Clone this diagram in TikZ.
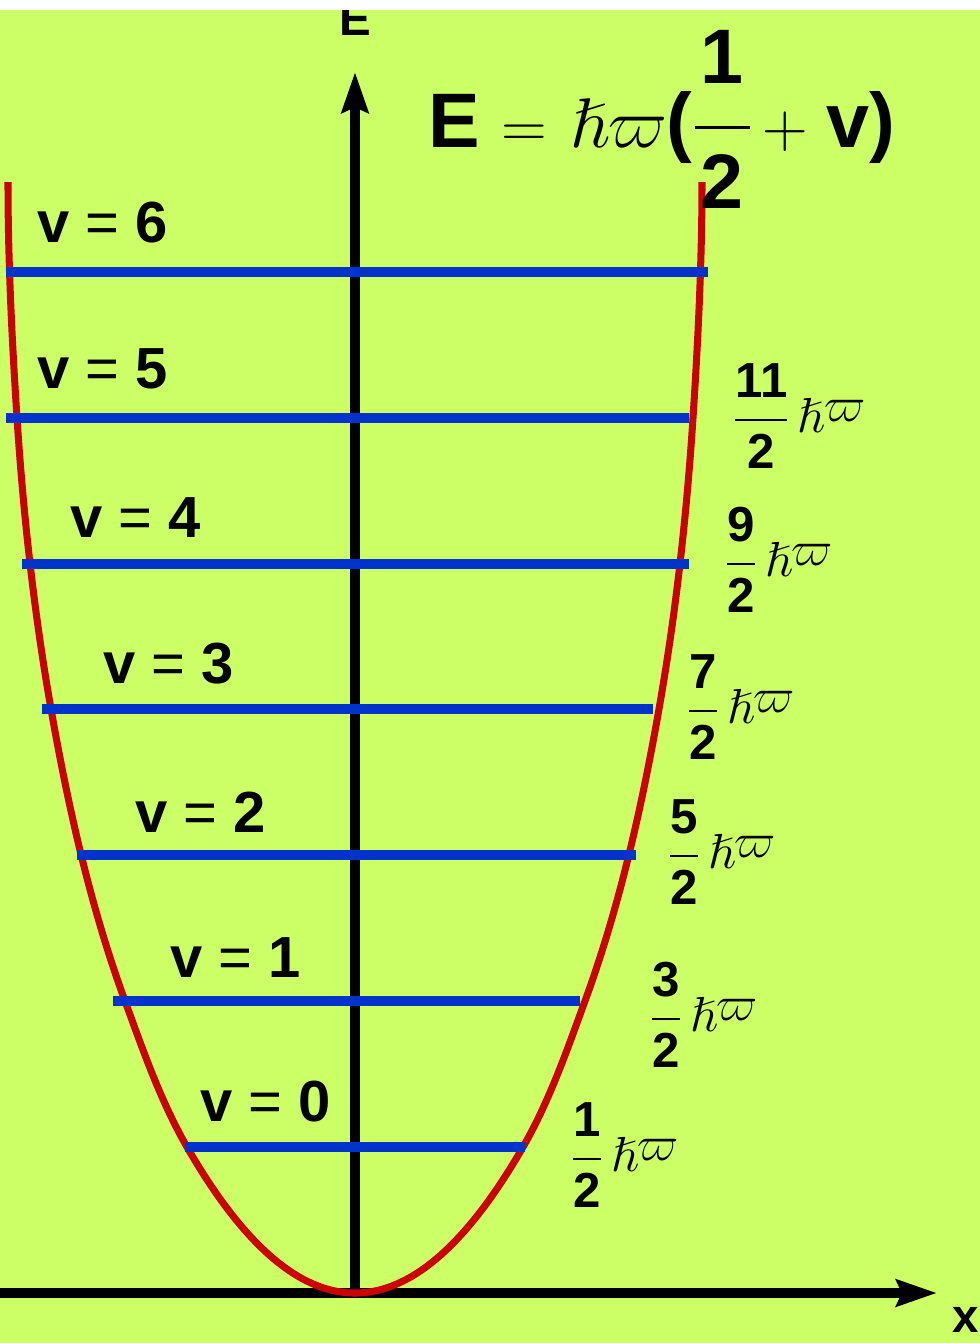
\RequirePackage{fix-cm}
\documentclass[tikz,border=0pt]{standalone}
\usepackage{amsmath,amssymb}
\usepackage[no-math]{fontspec}
\setmainfont{Liberation Sans}
\usepackage{tikz}
\usetikzlibrary{arrows.meta}
\definecolor{limebg}{RGB}{204, 255, 102}
\definecolor{levelblue}{RGB}{0, 51, 204}
\definecolor{wellred}{RGB}{204, 0, 0}
% fractions with the extra gaps of the original
\newcommand{\halffrac}[2]{\dfrac{\rule[-0.32em]{0pt}{0.8em}\textbf{#1}}{\rule{0pt}{0.84em}\textbf{#2}}}
\newcommand{\bigfrac}[2]{\dfrac{\rule[-0.43em]{0pt}{0.8em}\hspace{0.08em}\textbf{#1}\hspace{0.08em}}{\rule{0pt}{0.9em}\textbf{#2}}}
\newcommand{\hw}{\hslash\raisebox{0.22em}{$\varpi$}}

\begin{document}
\begin{tikzpicture}[
    x=0.02cm, y=-0.02cm,
    axis/.style={line width=6pt, black, -{Stealth[length=23pt, width=15pt, inset=3pt]}},
    well/.style={line width=4pt, wellred},
    level/.style={line width=5.6pt, levelblue},
    vlabel/.style={anchor=base west, inner sep=0pt, font=\fontsize{33}{38}\selectfont},
    elabel/.style={anchor=west, inner sep=0pt, font=\fontsize{28}{34}\selectfont},
    axlabel/.style={inner sep=0pt, font=\fontsize{27}{32}\selectfont\bfseries}
]
\useasboundingbox (0,0) rectangle (980,1343);
\fill[limebg] (0,10) rectangle (980,1343);

% axes
\coordinate (origin) at (355,1293);
\coordinate (xstart) at (-10,1293);
\coordinate (xtip) at (937,1293);
\coordinate (etip) at (355,72);
\draw[axis] (xstart) -- (xtip);
\draw[axis] (origin) -- (etip);
\node[axlabel, anchor=base east] (xlabel) at (979,1332) {x};
\node[axlabel, anchor=base] (elabel) at (355,35) {E};

% potential well
\draw[well] (8,182) .. controls (8,260.7) and (11.9,339.5) .. (17,418)
    .. controls (23.4,515.5) and (34.1,612.8) .. (51,709)
    .. controls (68.4,807.9) and (90.5,906.7) .. (125,1001)
    .. controls (143.2,1050.7) and (160.6,1101.1) .. (187,1147)
    .. controls (299,1341.7) and (411,1341.7) .. (523,1147)
    .. controls (549.4,1101.1) and (566.8,1050.7) .. (585,1001)
    .. controls (619.5,906.7) and (641.6,807.9) .. (659,709)
    .. controls (675.9,612.8) and (686.6,515.5) .. (693,418)
    .. controls (698.1,339.5) and (702,260.7) .. (702,182);

% energy levels
\draw[level] (6,272) -- (708,272);
\draw[level] (6,418) -- (689,418);
\draw[level] (22,564) -- (689,564);
\draw[level] (42,709) -- (653,709);
\draw[level] (77,855) -- (636,855);
\draw[level] (113,1001) -- (580,1001);
\draw[level] (185,1147) -- (525,1147);

\node[vlabel] (v6) at (37,242) {\textbf{v} = \textbf{6}};
\node[vlabel] (v5) at (37,388) {\textbf{v} = \textbf{5}};
\node[vlabel] (v4) at (70,537) {\textbf{v} = \textbf{4}};
\node[vlabel] (v3) at (103,683) {\textbf{v} = \textbf{3}};
\node[vlabel] (v2) at (135,832) {\textbf{v} = \textbf{2}};
\node[vlabel] (v1) at (170,977) {\textbf{v} = \textbf{1}};
\node[vlabel] (v0) at (200,1121) {\textbf{v} = \textbf{0}};

\node[elabel] (e5) at (733,416) {$\halffrac{11}{2}\,\hw$};
\node[elabel] (e4) at (725,560) {$\halffrac{9}{2}\,\hw$};
\node[elabel] (e3) at (687,707) {$\halffrac{7}{2}\,\hw$};
\node[elabel] (e2) at (668,852) {$\halffrac{5}{2}\,\hw$};
\node[elabel] (e1) at (650,1015) {$\halffrac{3}{2}\,\hw$};
\node[elabel] (e0) at (571,1155) {$\halffrac{1}{2}\,\hw$};

% formula
\node[anchor=base west, inner sep=0pt, font=\fontsize{44}{50}\selectfont] (formula) at (428,147)
    {\textbf{E} {\fontsize{36}{40}\selectfont$=$}\hspace{0.3em}{\fontsize{40}{44}\selectfont$\hslash\varpi$}\textbf{(}$\bigfrac{1}{2}$%
     {\fontsize{36}{40}\selectfont$\,+\,$}\hspace{0.1em}\textbf{v)}};

\fill[white] (0,0) rectangle (980,10);
\end{tikzpicture}
\end{document}
